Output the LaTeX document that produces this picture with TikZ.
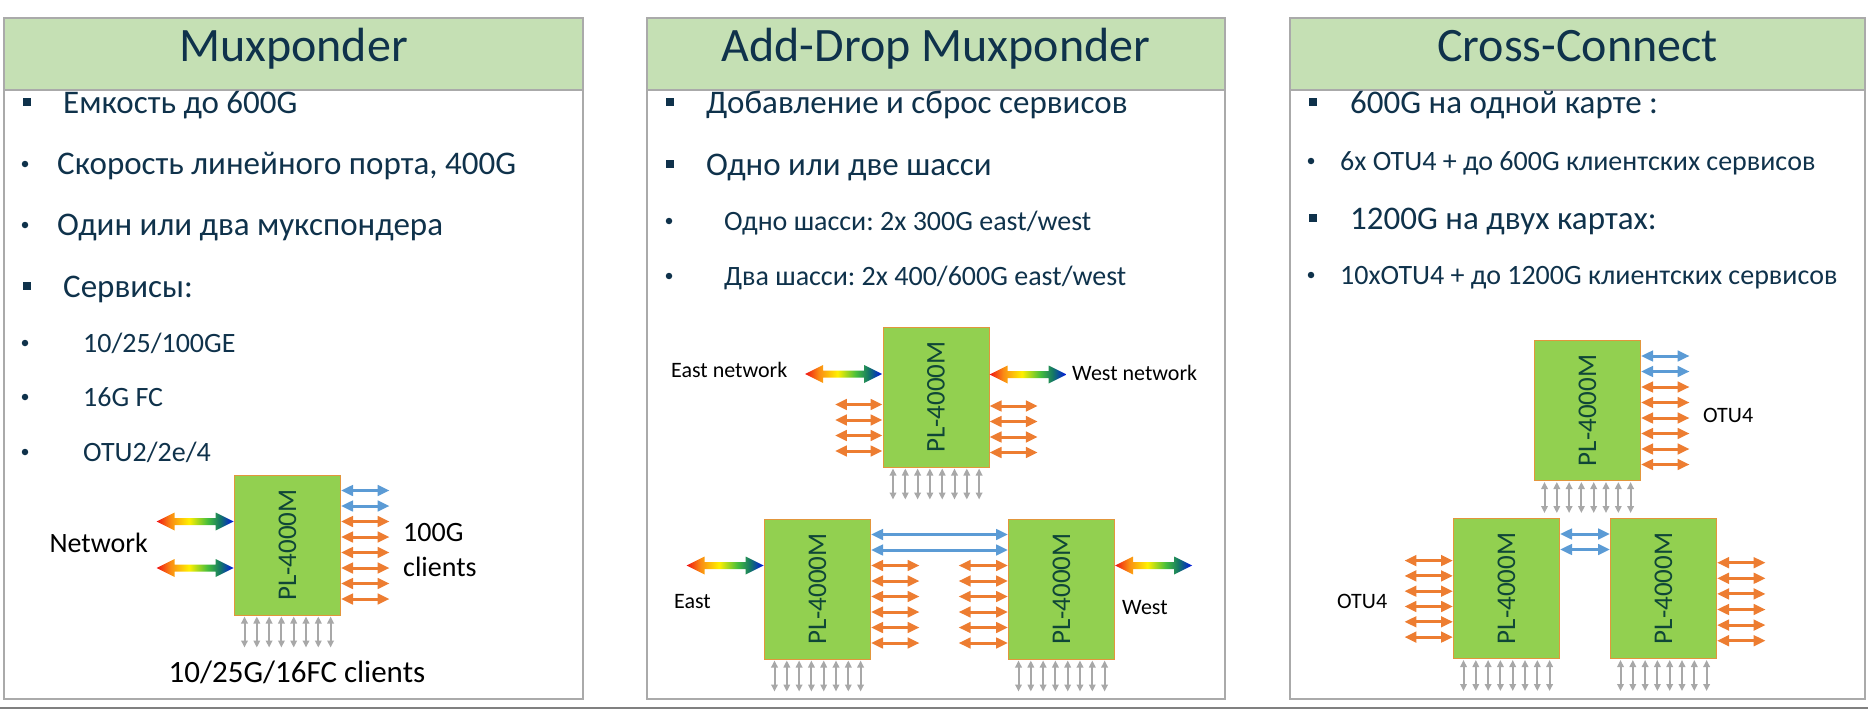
\documentclass[tikz,border=0pt]{standalone}
\usepackage{fontspec}
\usepackage{graphicx}
\setmainfont{Carlito}
\frenchspacing
\usetikzlibrary{arrows.meta,calc,positioning}

\definecolor{ink}{RGB}{15,50,75}
\definecolor{frame}{RGB}{170,170,170}
\definecolor{bandgreen}{RGB}{197,224,180}
\definecolor{cardgreen}{RGB}{146,208,80}
\definecolor{cardedge}{RGB}{226,150,60}
\definecolor{cardink}{RGB}{15,70,55}
\definecolor{portorange}{RGB}{237,125,49}
\definecolor{portblue}{RGB}{91,155,213}
\definecolor{portgray}{RGB}{168,168,168}
\definecolor{netred}{RGB}{240,20,20}
\definecolor{netorange}{RGB}{250,140,20}
\definecolor{netyellow}{RGB}{255,240,0}
\definecolor{netgreen}{RGB}{70,190,60}
\definecolor{netteal}{RGB}{20,120,100}
\definecolor{netblue}{RGB}{0,20,230}

\newcommand\fsTitle{\fontsize{48}{56}\selectfont}
\newcommand\fsItem{\fontsize{33}{38}\selectfont}
\newcommand\fsSub{\fontsize{28}{32}\selectfont}
\newcommand\fsLbl{\fontsize{28}{32}\selectfont}
\newcommand\fsTag{\fontsize{22}{26}\selectfont}
\newcommand\fsCard{\fontsize{27}{30}\selectfont}

\pgfdeclarehorizontalshading{netshade}{100bp}{color(0bp)=(netred); color(25bp)=(netred); color(34bp)=(netorange); color(46bp)=(netyellow); color(58bp)=(netgreen); color(66bp)=(netteal); color(75bp)=(netblue); color(100bp)=(netblue)}

\tikzset{
    panel/.style={draw=frame,line width=1.5pt},
    band/.style={panel,fill=bandgreen},
    ttl/.style={text=ink,font=\fsTitle,inner sep=0pt,anchor=base},
    item/.style={text=ink,font=\fsItem,inner sep=0pt,anchor=base west},
    sub/.style={item,font=\fsSub},
    sqb/.style={fill=ink,minimum size=8.5pt,inner sep=0pt},
    dotb/.style={circle,fill=ink,minimum size=6.5pt,inner sep=0pt},
    lbl/.style={font=\fsLbl,inner sep=0pt,anchor=base west},
    tag/.style={font=\fsTag,inner sep=0pt,anchor=base west},
    card/.style={draw=cardedge,line width=1pt,fill=cardgreen,minimum width=106pt,minimum height=140pt,inner sep=0pt,text=cardink,font=\fsCard},
    port/.style={line width=3pt,{Triangle[length=12pt,width=10.5pt]}-{Triangle[length=12pt,width=10.5pt]}},
    orport/.style={port,draw=portorange},
    blport/.style={port,draw=portblue},
    grport/.style={line width=2pt,draw=portgray,{Triangle[length=7pt,width=6.5pt]}-{Triangle[length=7pt,width=6.5pt]}},
    netarrow/.pic={
        \shade[shading=netshade] (0,0) -- (18,9) -- (18,3.5) -- (59,3.5) -- (59,9) -- (77,0) -- (59,-9) -- (59,-3.5) -- (18,-3.5) -- (18,-9) -- cycle;
    }
}

\begin{document}
\begin{tikzpicture}[x=1pt,y=-1pt]
    \useasboundingbox (0,0) rectangle (1868,709);
    \foreach \xa/\xb in {4/583,647/1225,1290/1865}{
        \draw[panel] (\xa,18) rectangle (\xb,699);
        \draw[band] (\xa,18) rectangle (\xb,90);
    }
    \draw[line width=2pt,draw=gray] (0,707.5) -- (1868,707.5);
    \node[ttl] (t1) at (293.5,62) {Muxponder};
    \node[ttl] (t2) at (936,62) {Add-Drop Muxponder};
    \node[ttl] (t3) at (1577.5,62) {Cross-Connect};

    \node[sqb] (b11) at (27,102) {};
    \node[item] (i11) at (63,113) {Емкость до 600G};
    \node[dotb] (b12) at (25,164) {};
    \node[item] (i12) at (57,174) {Скорость линейного порта, 400G};
    \node[dotb] (b13) at (25,225) {};
    \node[item] (i13) at (57,235) {Один или два мукспондера};
    \node[sqb] (b14) at (27,286) {};
    \node[item] (i14) at (63,297) {Сервисы:};
    \node[dotb] (b15) at (25,343) {};
    \node[sub] (i15) at (83,352) {10/25/100GE};
    \node[dotb] (b16) at (25,397) {};
    \node[sub] (i16) at (83,406) {16G FC};
    \node[dotb] (b17) at (25,452) {};
    \node[sub] (i17) at (83,461) {OTU2/2e/4};

    \node[sqb] (b21) at (670,102) {};
    \node[item] (i21) at (706,113) {Добавление и сброс сервисов};
    \node[sqb] (b22) at (670,164) {};
    \node[item] (i22) at (706,175) {Одно или две шасси};
    \node[dotb] (b23) at (669,221) {};
    \node[sub] (i23) at (724,230) {Одно шасси: 2x 300G east/west};
    \node[dotb] (b24) at (669,276) {};
    \node[sub] (i24) at (724,285) {Два шасси: 2x 400/600G east/west};

    \node[sqb] (b31) at (1313,102) {};
    \node[item] (i31) at (1350,113) {600G на одной карте :};
    \node[dotb] (b32) at (1311,161) {};
    \node[sub] (i32) at (1340,170) {6x OTU4 + до 600G клиентских сервисов};
    \node[sqb] (b33) at (1313,218) {};
    \node[item] (i33) at (1350,229) {1200G на двух картах:};
    \node[dotb] (b34) at (1311,275) {};
    \node[sub] (i34) at (1340,284) {10xOTU4 + до 1200G клиентских сервисов};

    \node[card] (m1) at (287.5,545) {\rotatebox{90}{PL-4000M}};
    \node[card] (a1) at (936,397) {\rotatebox{90}{PL-4000M}};
    \node[card] (a2) at (817.5,589) {\rotatebox{90}{PL-4000M}};
    \node[card,right=137pt of a2] (a3) {\rotatebox{90}{PL-4000M}};
    \node[card] (c1) at (1587.5,410.5) {\rotatebox{90}{PL-4000M}};
    \node[card] (c2) at (1506.5,588.5) {\rotatebox{90}{PL-4000M}};
    \node[card,right=50pt of c2] (c3) {\rotatebox{90}{PL-4000M}};

    \foreach \c in {m1,a1,a2,a3,c1,c2,c3}
        \foreach \j in {0,...,7} \draw[grport] ($(\c.south)+(-43+12.3*\j,1)$) -- ++(0,31);

    \foreach \k in {0,1} \draw[blport] ($(m1.north east)+(0,16+15.5*\k)$) -- ++(48.6,0);
    \foreach \k in {2,...,7} \draw[orport] ($(m1.north east)+(0,16+15.5*\k)$) -- ++(48.6,0);
    \foreach \k in {2,5} \pic at ($(m1.north west)+(-77.3,16+15.5*\k)$) {netarrow};

    \foreach \k in {4,...,7}{
        \draw[orport] ($(a1.north west)+(0,16+15.5*\k)$) -- ++(-47.6,0);
        \draw[orport] ($(a1.north east)+(0,17.5+15.5*\k)$) -- ++(48.3,0);
    }
    \pic at ($(a1.north west)+(-77.3,47.5)$) {netarrow};
    \pic at ($(a1.north east)+(0,48)$) {netarrow};

    \foreach \k in {0,1} \draw[blport] ($(a2.north east)+(0,16+15.5*\k)$) -- ($(a3.north west)+(0,16+15.5*\k)$);
    \foreach \k in {2,...,7}{
        \draw[orport] ($(a2.north east)+(0,16+15.5*\k)$) -- ++(48.6,0);
        \draw[orport] ($(a3.north west)+(0,16+15.5*\k)$) -- ++(-49.4,0);
    }
    \pic at ($(a2.north west)+(-77.3,47)$) {netarrow};
    \pic at ($(a3.north east)+(0,47)$) {netarrow};

    \foreach \k in {0,1} \draw[blport] ($(c1.north east)+(0,16+15.5*\k)$) -- ++(48.6,0);
    \foreach \k in {2,...,7} \draw[orport] ($(c1.north east)+(0,16+15.5*\k)$) -- ++(48.6,0);
    \foreach \k in {0,1} \draw[blport] ($(c2.north east)+(0,16+15.5*\k)$) -- ($(c3.north west)+(0,16+15.5*\k)$);
    \foreach \k in {2,...,7}{
        \draw[orport] ($(c2.north west)+(0,12+15.3*\k)$) -- ++(-48.6,0);
        \draw[orport] ($(c3.north east)+(0,13.5+15.6*\k)$) -- ++(48.6,0);
    }

    \node[lbl,anchor=base east] (l1) at (148,552) {Network};
    \node[lbl] (l2) at (403,541) {100G};
    \node[lbl] (l3) at (403,576) {clients};
    \node[lbl,anchor=base,font=\fontsize{31}{34}\selectfont] (l4) at (297,682) {10/25G/16FC clients};
    \node[tag] (l5) at (671,377) {East network};
    \node[tag] (l6) at (1072,380) {West network};
    \node[tag] (l7) at (674,608) {East};
    \node[tag] (l8) at (1122,614) {West};
    \node[tag] (l9) at (1703,422) {OTU4};
    \node[tag] (l10) at (1337,608) {OTU4};
\end{tikzpicture}
\end{document}
